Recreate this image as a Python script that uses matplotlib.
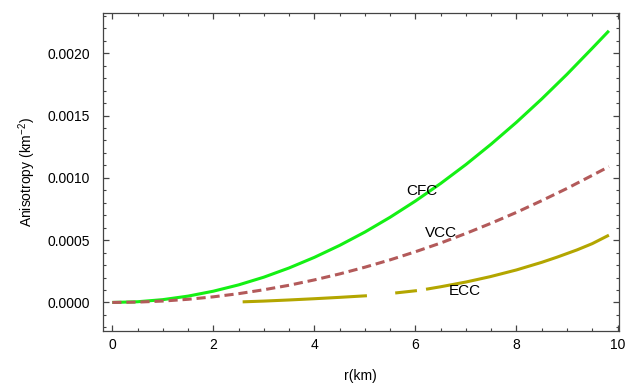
import matplotlib
matplotlib.use("Agg")
import matplotlib.pyplot as plt
from matplotlib.ticker import MultipleLocator, FormatStrFormatter

plt.rcParams["font.family"] = ["Liberation Sans", "DejaVu Sans"]
plt.rcParams["mathtext.default"] = "regular"

# values
r_main = [0, 0.5, 1, 1.5, 2, 2.5, 3, 3.5, 4, 4.5, 5, 5.5, 6, 6.5, 7, 7.5,
          8, 8.5, 9, 9.5, 9.83]
cfc = [0, 0.0000057, 0.0000226, 0.0000509, 0.0000904, 0.000141, 0.000203,
       0.000277, 0.000362, 0.000458, 0.000565, 0.000684, 0.000814, 0.000955,
       0.001107, 0.001271, 0.001446, 0.001633, 0.001831, 0.00204, 0.00218]
vcc = [0, 0.0000028, 0.0000113, 0.0000254, 0.0000452, 0.0000706, 0.000102,
       0.000138, 0.000181, 0.000229, 0.000283, 0.000342, 0.000407, 0.000477,
       0.000554, 0.000636, 0.000723, 0.000817, 0.000915, 0.00102, 0.00109]

# ECC is drawn in three pieces (gaps in the original curve)
ecc_r1 = [2.58, 3.0, 3.5, 4.0, 4.5, 5.04]
ecc_v1 = [0.000005, 0.000011, 0.000020, 0.000030, 0.000041, 0.000054]
ecc_r2 = [5.6, 6.03]
ecc_v2 = [0.000076, 0.000095]
ecc_r3 = [6.21, 6.5, 7.0, 7.48, 8.0, 8.5, 8.8, 9.2, 9.5, 9.83]
ecc_v3 = [0.000106, 0.000126, 0.000164, 0.000207, 0.000261, 0.000322,
          0.000363, 0.000422, 0.000472, 0.000540]

labels = [("CFC", 6.13, 0.000898), ("VCC", 6.51, 0.000556), ("ECC", 6.98, 0.000088)]

GREEN = "#14f014"
BROWN = "#b35a5a"
OLIVE = "#b3a600"
FRAME = "#444444"

fig = plt.figure(figsize=(6.36, 3.9), dpi=100)
ax = fig.add_axes([0.1615, 0.1513, 0.8118, 0.8154])

ax.plot(r_main, cfc, color=GREEN, lw=2.2, solid_capstyle="butt")
ax.plot(r_main, vcc, color=BROWN, lw=2.2, ls=(0, (3.0, 1.6)))
for rr, vv in [(ecc_r1, ecc_v1), (ecc_r2, ecc_v2), (ecc_r3, ecc_v3)]:
    ax.plot(rr, vv, color=OLIVE, lw=2.2, solid_capstyle="butt")

for txt, x, y in labels:
    ax.text(x, y, txt, fontsize=11, ha="center", va="center")

ax.set_xlim(-0.19, 10.03)
ax.set_ylim(-0.000229, 0.002323)
ax.xaxis.set_major_locator(MultipleLocator(2))
ax.xaxis.set_minor_locator(MultipleLocator(0.5))
ax.yaxis.set_major_locator(MultipleLocator(0.0005))
ax.yaxis.set_minor_locator(MultipleLocator(0.0001))
ax.yaxis.set_major_formatter(FormatStrFormatter("%.4f"))

ax.tick_params(which="both", direction="in", top=True, right=True,
               color=FRAME, labelsize=10, labelcolor="black")
ax.tick_params(which="major", length=4.5, width=0.9)
ax.tick_params(which="minor", length=2.5, width=0.8)
ax.tick_params(axis="x", which="major", pad=5)
ax.tick_params(axis="y", which="major", pad=9)
for sp in ax.spines.values():
    sp.set_color(FRAME)
    sp.set_linewidth(0.9)

ax.set_xlabel("r(km)", fontsize=10, labelpad=12)
ax.set_ylabel("Anisotropy (km$^{-2}$)", fontsize=10, labelpad=7)

fig.savefig("out.png", dpi=100)
